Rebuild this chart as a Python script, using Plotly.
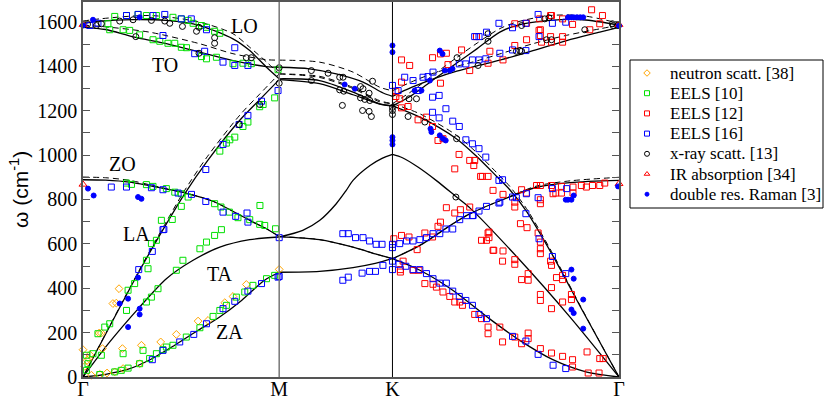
# %%
import plotly.graph_objects as go

# path coordinate along Gamma-M-K-Gamma (|GM| : |MK| : |KG| = 0.866 : 0.5 : 1)
G1, M, K, G2 = 0.0, 0.866, 1.366, 2.366
tick_pos = [G1, M, K, G2]
tick_text = ["Γ", "M", "K", "Γ"]

# %% calculated branches (solid)
za_u = [0, .1, .2, .3, .4, .5, .6, .7, .8, .866, 1.044, 1.192, 1.29, 1.366, 1.487, 1.632, 1.795, 1.928, 2.074, 2.224, 2.366]
za_w = [0, 12, 35, 80, 140, 205, 268, 345, 435, 472, 476, 493, 512, 533, 481, 391, 262, 165, 78, 22, 0]

ta_u = [0, .118, .25, .368, .486, .604, .736, .866, .97, 1.044, 1.118, 1.162, 1.192, 1.267, 1.32, 1.366, 1.41, 1.48, 1.56, 1.65, 1.71, 1.93, 2.15, 2.366]
ta_w = [0, 158, 315, 443, 526, 585, 619, 631, 661, 705, 781, 841, 886, 953, 985, 1003, 988, 945, 885, 810, 760, 525, 270, 0]

zo_u = [0, .1, .206, .353, .457, .574, .692, .751, .81, .866, 1.044, 1.192, 1.29, 1.366, 1.487, 1.632, 1.707, 1.854, 2.0, 2.15, 2.366]
zo_w = [889, 887, 878, 850, 828, 792, 730, 698, 668, 633, 619, 585, 555, 533, 593, 690, 735, 800, 854, 876, 886]

la_u = [0, .25, .368, .445, .55, .692, .78, .866, 1.044, 1.192, 1.31, 1.366, 1.487, 1.648, 1.737, 1.825, 1.883, 1.957, 2.075, 2.207, 2.366]
la_w = [0, 480, 690, 820, 975, 1157, 1250, 1340, 1322, 1272, 1230, 1222, 1171, 1074, 995, 905, 845, 748, 545, 295, 0]

lo_u = [0, .074, .221, .368, .515, .662, .736, .81, .866, 1.044, 1.192, 1.31, 1.366, 1.44, 1.5, 1.56, 1.65, 1.74, 1.84, 1.913, 2.06, 2.207, 2.366]
lo_w = [1594, 1604, 1611, 1607, 1584, 1524, 1471, 1396, 1344, 1336, 1284, 1231, 1222, 1262, 1305, 1350, 1415, 1480, 1554, 1584, 1607, 1610, 1586]

to_u = [0, .1, .221, .368, .515, .662, .81, .866, 1.0, 1.118, 1.236, 1.325, 1.366, 1.45, 1.55, 1.65, 1.75, 1.84, 1.986, 2.135, 2.281, 2.366]
to_w = [1576, 1566, 1533, 1502, 1464, 1426, 1399, 1396, 1389, 1366, 1329, 1280, 1265, 1305, 1345, 1378, 1405, 1428, 1471, 1516, 1554, 1576]

# %% second calculation (dashed)
to_d_u = [0, .1, .294, .515, .662, .81, .866, 1.044, 1.192, 1.31, 1.366, 1.45, 1.55, 1.65, 1.75, 1.84, 1.986, 2.135, 2.281, 2.366]
to_d_w = [1585, 1578, 1554, 1502, 1457, 1430, 1428, 1419, 1374, 1306, 1290, 1330, 1370, 1400, 1428, 1456, 1502, 1540, 1569, 1586]

lo_d_u = [0, .074, .3, .515, .662, .736, .81, .866, 1.044, 1.192, 1.31, 1.366, 1.44, 1.5, 1.56, 1.65, 1.74, 1.84, 1.913, 2.06, 2.207, 2.366]
lo_d_w = [1604, 1614, 1629, 1599, 1547, 1486, 1420, 1366, 1355, 1305, 1245, 1232, 1280, 1325, 1372, 1440, 1505, 1570, 1599, 1629, 1628, 1594]

la_d_u = [0, .25, .368, .445, .55, .692, .78, .866, 1.044, 1.192, 1.31, 1.366, 1.487, 1.648, 1.737, 1.825, 1.883, 1.957, 2.075, 2.207, 2.366]
la_d_w = [0, 485, 700, 835, 995, 1180, 1275, 1366, 1350, 1300, 1240, 1232, 1186, 1090, 1012, 922, 860, 760, 553, 298, 0]

zo_d_u = [0, .1, .206, .353, .457, .574, .692, .751, .81, .866, 1.044, 1.192, 1.29, 1.366, 1.487, 1.632, 1.707, 1.854, 2.0, 2.15, 2.366]
zo_d_w = [901, 898, 886, 852, 828, 792, 730, 698, 668, 633, 619, 585, 555, 533, 593, 690, 735, 800, 860, 884, 900]

# %% experimental data
neutron_u = [0.0, 0.008, 0.018, 0.026, 0.030, 0.037, 0.071, 0.074, 0.081, 0.086, 0.106, 0.132, 0.140, 0.147, 0.159,
             0.174, 0.177, 0.250, 0.258, 0.343, 0.412, 0.508, 0.552, 0.626, 0.662, 0.721, 0.866]
neutron_w = [123, 48, 75, 83, 100, 8, 198, 12, 198, 128, 18, 331, 23, 333, 398,
             128, 38, 60, 143, 158, 192, 252, 255, 335, 363, 417, 485]

eels10_u = [.110, .140, .192, .243, .280, .324, .397, .434, .464, .486, .523, .545, .581, .604,
            .118, .177, .206, .250, .309, .339, .375, .405, .434, .457, .523, .545, .589, .662, .706, .743,
            .861, .846,
            .795, .780, .728, .706, .670, .633, .604, .648,
            .394, .434, .280, .287, .302, .324, .346, .192, .199, .228, .096, .118, .066, .022, .015, .015, .044, .081,
            .192, .214, .280, .309, .368, .405, .434, .464, .581, .609, .646, .684, .736, .781, .780, .802, .850,
            .412, .441, .516, .545, .581, .611,
            .177, .265, .280, .302, .331,
            .074, .140, .169, .199, .250, .294, .324, .353, .368, .397, .456, .516, .574, .604, .633, .677, .714, .750, .810, .846]
eels10_w = [1592, 1625, 1629, 1634, 1629, 1629, 1621, 1614, 1607, 1594, 1584, 1576, 1558, 1549,
            1565, 1565, 1562, 1542, 1520, 1513, 1504, 1504, 1486, 1484, 1444, 1434, 1441, 1412, 1414, 1412,
            1385, 1258,
            1228, 1218, 1149, 1129, 1081, 1054, 1018, 1069,
            710, 769, 526, 488, 601, 616, 706, 300, 391, 421, 225, 240, 195, 60, 30, 98, 105, 98,
            874, 868, 867, 859, 849, 833, 826, 811, 781, 766, 743, 718, 709, 773, 688, 683, 668,
            481, 526, 578, 608, 638, 664,
            105, 120, 338, 360, 398,
            11, 23, 30, 40, 60, 83, 105, 123, 135, 143, 180, 222, 273, 300, 323, 360, 383, 413, 443, 458]

eels12_u = [1.406, 1.442, 1.543, 1.578, 1.604, 1.671, 1.737, 1.796, 1.788, 1.707, 1.578, 1.611, 1.406, 1.381, 1.381,
            1.398, 1.406, 1.435, 1.479, 1.516, 1.543, 1.567, 1.589, 1.660, 1.707, 1.725, 1.641, 1.755, 1.788, 1.810,
            1.906, 1.958, 2.013, 2.064, 2.117, 2.161, 2.245, 2.293, 2.281, 2.237, 2.019, 2.064, 2.117, 2.068, 2.117,
            1.958, 1.906, 1.854, 2.016, 2.068, 2.024, 2.019,
            1.372, 1.406, 1.439, 1.475, 1.509, 1.543, 1.567, 1.578, 1.604, 1.641, 1.666,
            1.401, 1.401, 1.413, 1.457, 1.483, 1.509, 1.545, 1.560, 1.589, 1.619, 1.641, 1.663, 1.675, 1.729, 1.759,
            1.788, 1.788, 1.840, 1.852, 1.906, 1.936, 1.965, 1.965, 2.019, 2.068, 2.117, 2.161, 2.161, 2.225, 2.230,
            2.278, 2.281, 2.296,
            1.759, 1.788, 1.792, 1.813, 1.854, 1.852, 1.906, 1.906, 1.965, 1.965, 1.936, 2.019, 2.019, 2.068, 2.068,
            2.090, 2.117, 2.117, 2.156, 2.156,
            1.931, 1.960, 2.009, 2.019, 2.019, 2.019, 2.064, 2.068, 2.117,
            1.707, 1.763, 1.854, 1.906, 1.906, 1.936, 1.958, 2.002, 2.019, 2.019, 2.019, 2.068, 2.075, 2.087, 2.112,
            2.112, 2.163, 2.163, 2.200, 2.222, 2.249, 2.281, 2.303, 1.792, 1.781, 1.810, 1.729]
eels12_w = [1429, 1404, 1439, 1456, 1459, 1474, 1534, 1468, 1414, 1381, 1324, 1408, 1329, 1288, 1264,
            1254, 1213, 1219, 1159, 1171, 1129, 1066, 1074, 1003, 976, 953, 938, 904, 904, 841,
            1592, 1594, 1562, 1629, 1614, 1589, 1655, 1629, 1592, 1565, 1539, 1534, 1534, 1509, 1509,
            1520, 1494, 1429, 1614, 1629, 1509, 1565,
            623, 638, 631, 574, 649, 631, 679, 698, 763, 739, 754,
            484, 473, 522, 481, 481, 421, 418, 405, 383, 363, 338, 338, 323, 282, 263,
            225, 195, 225, 158, 180, 150, 198, 173, 128, 108, 93, 78, 45, 113, 18,
            18, 83, 83,
            616, 649, 628, 571, 568, 522, 529, 508, 466, 436, 439, 372, 345, 403, 308,
            448, 439, 338, 372, 349,
            691, 673, 649, 608, 578, 556, 522, 503, 458,
            766, 904, 823, 788, 766, 844, 829, 863, 863, 799, 781, 863, 826, 829, 859,
            829, 856, 829, 863, 856, 863, 863, 874, 653, 616, 571, 976]

eels16_u = [.030, .066, .192, .243, .309, .361, .434, .478, .545, .670, .353, .493, .537, .618, .670, .728, .861,
            .788, .728, .689, .618, .542, .357, .246, .306, .353,
            .125, .192, .302, .353, .420, .479, .542, .618, .674, .728, .724,
            .306, .353, .427, .489, .545, .618, .670, .728, .788, .861,
            .866, .866,
            1.147, 1.171, 1.203, 1.236, 1.265, 1.294, 1.320, 1.366, 1.366, 1.398, 1.428, 1.457, 1.487, 1.516, 1.545,
            1.575, 1.602, 1.632, 1.663, 1.693, 1.719, 1.748, 1.836, 1.896, 1.957, 2.009, 1.722, 1.781, 1.840,
            1.147, 1.171, 1.232, 1.265, 1.291, 1.324, 1.366, 1.366, 1.395, 1.425, 1.457, 1.487, 1.516, 1.545, 1.575,
            1.604, 1.632, 1.661, 1.690, 1.719, 1.748, 1.781, 1.896, 1.955, 2.009, 2.075, 2.131,
            1.366, 1.391, 1.420, 1.457, 1.479, 1.501, 1.523, 1.545, 1.543, 1.572, 1.602, 1.543, 1.572, 1.632, 1.661,
            1.690, 1.719, 1.748, 1.778, 1.836, 1.661, 1.690, 1.719, 1.748, 1.778, 1.729, 1.748, 1.781, 1.836, 1.896,
            1.955, 2.009, 2.072, 2.131, 2.013, 1.840, 1.896, 1.955,
            1.852, 1.913, 1.955, 2.013, 2.072, 2.072, 2.135, 2.131]
eels16_w = [1584, 1594, 1629, 1634, 1629, 1634, 1614, 1614, 1565, 1484, 1539, 1457, 1468, 1419, 1404, 1404, 1291,
            1243, 1179, 1138, 1048, 935, 665, 484, 566, 664,
            856, 856, 853, 844, 829, 823, 791, 743, 724, 698, 739,
            78, 120, 158, 192, 240, 308, 341, 387, 421, 450,
            628, 453,
            646, 646, 628, 628, 613, 598, 598, 598, 583, 601, 613, 613, 619, 628, 646,
            646, 667, 667, 709, 727, 727, 748, 784, 811, 826, 808, 728, 769, 788,
            436, 450, 468, 476, 476, 503, 484, 522, 508, 499, 484, 484, 466, 443, 423,
            423, 387, 363, 345, 323, 282, 263, 183, 162, 102, 53, 38,
            1314, 1291, 1351, 1336, 1291, 1351, 1354, 1374, 1261, 1269, 1209, 1193, 1168, 1153, 1129,
            1069, 1051, 1029, 991, 886, 1411, 1411, 1429, 1429, 1434, 1534, 1534, 1554, 1594, 1574,
            1594, 1634, 1594, 1599, 1534, 1459, 1474, 1471,
            889, 808, 736, 623, 543, 849, 849, 466]

xray_u = [0.02, 0.059, 0.081, 0.162, 0.221, 0.302, 0.361, 0.383, 0.439, 0.501, 0.512, 0.581, 0.581, 0.233, 0.512,
          0.721, 0.743, 0.780, 0.689, 0.866, 0.866,
          1.008, 1.082, 1.133, 1.148, 1.133, 1.151, 1.225, 1.236, 1.263, 1.278, 1.145, 1.225, 1.244, 1.266, 1.234,
          1.263, 1.273, 1.008, 1.366, 1.366, 1.366,
          1.435, 1.472, 1.439, 1.509, 1.649, 1.651, 1.788, 1.788, 1.936, 2.057, 2.215, 2.340, 1.744, 1.913, 1.936,
          2.068, 2.046, 1.646, 2.337, 2.362, 1.928, 2.038]
xray_w = [1590, 1584, 1592, 1604, 1610, 1607, 1604, 1594, 1580, 1558, 1576, 1529, 1504, 1534, 1459,
          1439, 1439, 1228, 1138, 1394, 1324,
          1381, 1369, 1351, 1351, 1294, 1288, 1309, 1299, 1279, 1333, 1224, 1258, 1251, 1246, 1201,
          1197, 1174, 1336, 1201, 1183, 1215,
          1174, 1254, 1254, 1149, 1074, 1439, 1547, 1513, 1584, 1619, 1565, 1584, 1404, 1468, 1468,
          1520, 1520, 811, 1592, 1584, 1471, 1614]

ir_u = [0.0, 0.0, 2.366, 2.366]
ir_w = [868, 1588, 871, 1588]

raman_u = [0.0, .044, .250, .022, .047, .243, .258, .162, .199, .199, .243, .250, .250,
           1.155, 1.200, 1.366, 1.366, 1.366, 1.366, 1.366, 1.464, 1.494, 1.531, 1.575, 1.587, 1.597, 1.619, 1.631,
           1.534, 1.538, 1.575, 1.589, 1.601, 2.141, 2.156, 2.166, 2.180, 2.195, 2.208, 2.131, 2.141, 2.156, 2.166,
           2.156, 2.166, 2.208, 2.156, 2.166, 2.208, 2.362, 2.366]
raman_w = [1584, 1610, 1621, 849, 818, 811, 803, 331, 353, 225, 448, 308, 282,
           1318, 1299, 1494, 1464, 1081, 1066, 1048, 1291, 1291, 1336, 1471, 1456, 1381, 1381, 1389,
           1119, 1104, 1089, 1074, 1066, 1621, 1621, 1621, 1621, 1621, 1621, 799, 799, 799, 818,
           484, 443, 349, 304, 288, 218, 859, 1583]

branch_labels = ["LO", "TO", "ZO", "LA", "TA", "ZA"]
label_u = [0.714, 0.36, 0.175, 0.237, 0.603, 0.648]
label_w = [1580, 1408, 958, 643, 462, 201]


# %%
def segments(u, w):
    out = []
    for a, b in [(G1, M), (M, K), (K, G2)]:
        su = [x for x in u if a - 1e-9 <= x <= b + 1e-9]
        sw = [y for x, y in zip(u, w) if a - 1e-9 <= x <= b + 1e-9]
        out.append((su, sw))
    return out


# figure geometry (px): plot area 83..619 x 2..377, legend to its right
W, H = 830, 398
L, T, B = 83, 2, 21
PLOT_R = 619
pw, ph = W - L, H - T - B      # paper size in px (margin r = 0)
dom = (PLOT_R - L) / pw        # x-domain of the dispersion plot


def xp(px):
    return (px - L) / pw


def yp(py):
    return (H - B - py) / ph


fig = go.Figure()

solid = [(za_u, za_w), (ta_u, ta_w), (zo_u, zo_w), (la_u, la_w), (lo_u, lo_w), (to_u, to_w)]
dashed = [(to_d_u, to_d_w), (lo_d_u, lo_d_w), (la_d_u, la_d_w), (zo_d_u, zo_d_w)]

for u, w in dashed:
    for su, sw in segments(u, w):
        fig.add_trace(go.Scatter(x=su, y=sw, mode="lines", showlegend=False, hoverinfo="skip",
                                 line=dict(color="black", width=1, dash="6px,4px", shape="spline", smoothing=0.8)))
for u, w in solid:
    for su, sw in segments(u, w):
        fig.add_trace(go.Scatter(x=su, y=sw, mode="lines", showlegend=False, hoverinfo="skip",
                                 line=dict(color="black", width=1.3, shape="spline", smoothing=0.8)))

datasets = [
    ("neutron scatt. [38]", neutron_u, neutron_w, "diamond-open", "#ffa500", 6),
    ("EELS [10]", eels10_u, eels10_w, "square-open", "#00e000", 6),
    ("EELS [12]", eels12_u, eels12_w, "square-open", "#ff0000", 6),
    ("EELS [16]", eels16_u, eels16_w, "square-open", "#0000ff", 6),
    ("x-ray scatt. [13]", xray_u, xray_w, "circle-open", "black", 6),
    ("IR absorption [34]", ir_u, ir_w, "triangle-up-open", "#ff0000", 7),
    ("double res. Raman [3]", raman_u, raman_w, "circle", "#0000ff", 5),
]
for name, u, w, sym, col, size in datasets:
    fig.add_trace(go.Scatter(x=u, y=w, mode="markers", name=name, showlegend=False, cliponaxis=False,
                             marker=dict(symbol=sym, color=col, size=size, line=dict(color=col, width=1))))

# hand-drawn legend to the right of the plot; symbols live on a hidden pixel-scaled axis pair
fig.add_shape(type="rect", xref="paper", yref="paper", x0=xp(630), x1=xp(823), y0=yp(208), y1=yp(60),
              line=dict(color="black", width=1), fillcolor="rgba(0,0,0,0)", layer="above")
for i, (name, u, w, sym, col, size) in enumerate(datasets):
    row_y = 73 + i * 20.2
    fig.add_annotation(x=xp(668), y=yp(row_y), xref="paper", yref="paper", text=name, showarrow=False,
                       xanchor="left", yanchor="middle",
                       font=dict(family="Liberation Serif", size=17, color="black"))
    fig.add_trace(go.Scatter(x=[647], y=[H - B - row_y], xaxis="x2", yaxis="y2", mode="markers",
                             showlegend=False, hoverinfo="skip",
                             marker=dict(symbol=sym, color=col, size=5 if sym != "circle" else 4,
                                         line=dict(color=col, width=1))))

for t, x, y in zip(branch_labels, label_u, label_w):
    fig.add_annotation(x=x, y=y, text=t, showarrow=False, xref="x", yref="y",
                       font=dict(family="Liberation Serif", size=20, color="black"))

fig.add_annotation(x=xp(19), y=yp(190), xref="paper", yref="paper",
                   text="ω (cm<sup>-1</sup>)", textangle=-90, xanchor="center", yanchor="middle",
                   showarrow=False, font=dict(family="Liberation Sans", size=21, color="black"))

fig.add_shape(type="line", xref="x", yref="paper", x0=M, x1=M, y0=0, y1=1, line=dict(color="#777", width=1.5))
fig.add_shape(type="line", xref="x", yref="paper", x0=K, x1=K, y0=0, y1=1, line=dict(color="black", width=1))

fig.update_layout(
    width=W, height=H, template="none", showlegend=False,
    margin=dict(l=L, r=0, t=T, b=B),
    plot_bgcolor="rgba(0,0,0,0)", paper_bgcolor="white",
    font=dict(family="Liberation Serif", size=19, color="black"),
    xaxis=dict(domain=[0, dom], range=[G1, G2], tickvals=tick_pos, ticktext=tick_text, ticks="",
               showgrid=False, zeroline=False, showline=True, linecolor="#555", linewidth=1.5, mirror=True,
               automargin=False, ticklabelstandoff=-7, tickfont=dict(family="Liberation Serif", size=20)),
    yaxis=dict(range=[0, 1690], dtick=200, tick0=0,
               ticks="inside", ticklen=7, tickcolor="#555", showgrid=False, zeroline=False,
               showline=True, linecolor="#555", linewidth=1.5, mirror="ticks", automargin=False,
               minor=dict(dtick=100, ticks="inside", ticklen=7, tickcolor="#555", showgrid=False),
               tickfont=dict(family="Liberation Serif", size=20)),
    xaxis2=dict(domain=[0, 1], range=[L, W], visible=False, anchor="y2"),
    yaxis2=dict(range=[0, ph], visible=False, anchor="x2", overlaying="y"),
)

fig.write_html("out.html", post_script="document.body.style.margin='0';",
               config={"displayModeBar": False})
